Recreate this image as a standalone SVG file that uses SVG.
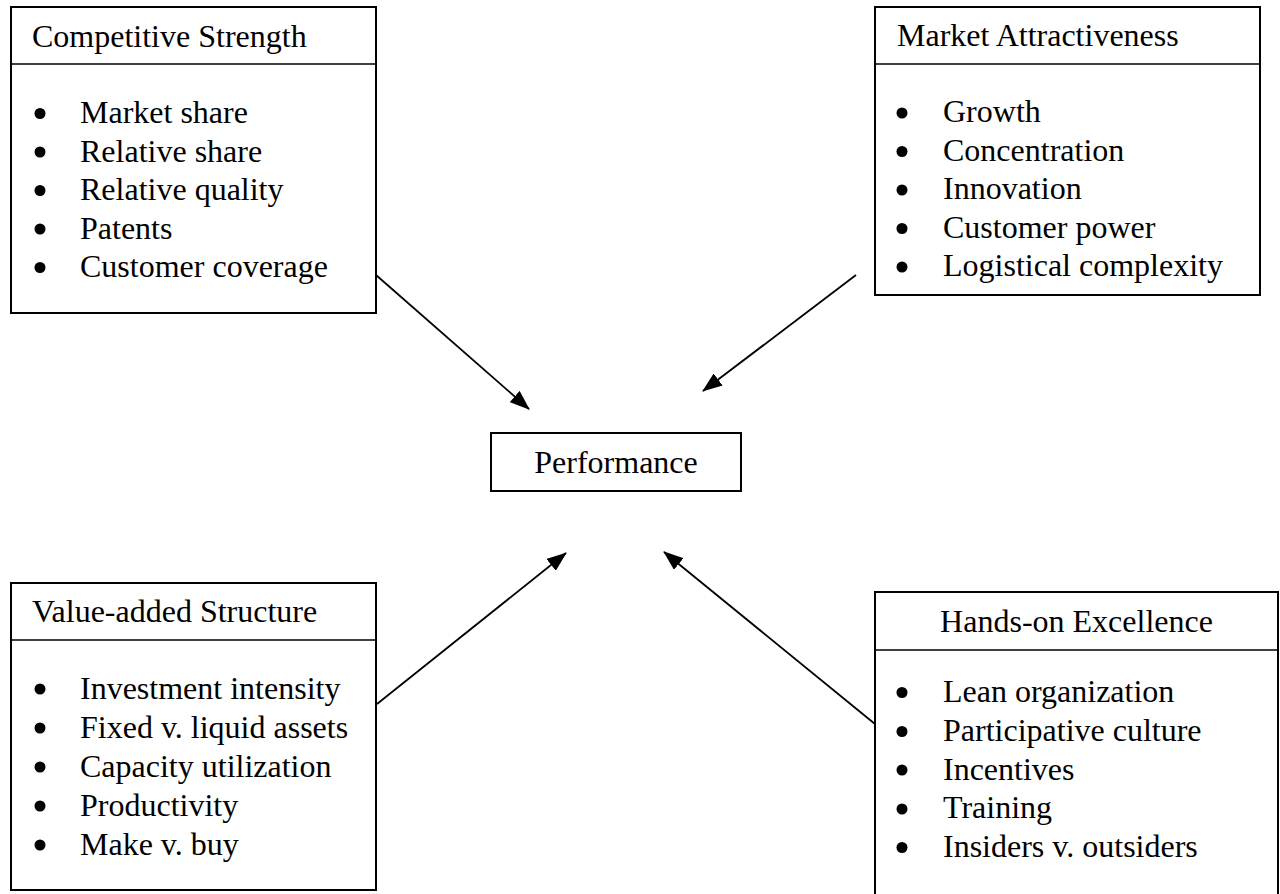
<svg xmlns="http://www.w3.org/2000/svg" width="1280" height="894" viewBox="0 0 1280 894">
  <defs>
    <marker id="arrow" markerUnits="userSpaceOnUse" markerWidth="20" markerHeight="15" refX="19" refY="7.5" orient="auto">
      <path d="M0,0 L20,7.5 L0,15 z" fill="#000"/>
    </marker>
    <style>
      .box { fill: #fff; stroke: #000; stroke-width: 2; }
      .rule { stroke: #000; stroke-width: 1.6; }
      .title { font-family: "Liberation Serif", "Times New Roman", serif; font-size: 32px; fill: #000; }
      .item { font-family: "Liberation Serif", "Times New Roman", serif; font-size: 32px; fill: #000; }
      .dot { fill: #000; }
      .link { stroke: #000; stroke-width: 1.8; fill: none; marker-end: url(#arrow); }
    </style>
  </defs>
  <rect width="1280" height="894" fill="#fff"/>

  <!-- connectors into the central node -->
  <g id="connectors">
    <line class="link" x1="376" y1="275" x2="529" y2="409"/>
    <line class="link" x1="856" y1="275" x2="703" y2="391"/>
    <line class="link" x1="377" y1="704" x2="566" y2="553"/>
    <line class="link" x1="875" y1="724" x2="664" y2="552"/>
  </g>

  <g id="competitive-strength">
    <rect class="box" x="11" y="7" width="365" height="306"/>
    <line class="rule" x1="11" y1="64" x2="376" y2="64"/>
    <text class="title" x="32" y="47">Competitive Strength</text>
    <circle class="dot" cx="40" cy="113.5" r="5.5"/>
    <circle class="dot" cx="40" cy="152" r="5.5"/>
    <circle class="dot" cx="40" cy="190.5" r="5.5"/>
    <circle class="dot" cx="40" cy="229" r="5.5"/>
    <circle class="dot" cx="40" cy="267.5" r="5.5"/>
    <text class="item" x="80" y="123">Market share</text>
    <text class="item" x="80" y="161.5">Relative share</text>
    <text class="item" x="80" y="200">Relative quality</text>
    <text class="item" x="80" y="238.5">Patents</text>
    <text class="item" x="80" y="277">Customer coverage</text>
  </g>

  <g id="market-attractiveness">
    <rect class="box" x="875" y="7" width="385" height="288"/>
    <line class="rule" x1="875" y1="64" x2="1260" y2="64"/>
    <text class="title" x="897" y="46">Market Attractiveness</text>
    <circle class="dot" cx="902" cy="113" r="5.5"/>
    <circle class="dot" cx="902" cy="151.5" r="5.5"/>
    <circle class="dot" cx="902" cy="190" r="5.5"/>
    <circle class="dot" cx="902" cy="228.5" r="5.5"/>
    <circle class="dot" cx="902" cy="267" r="5.5"/>
    <text class="item" x="943" y="122">Growth</text>
    <text class="item" x="943" y="160.5">Concentration</text>
    <text class="item" x="943" y="199">Innovation</text>
    <text class="item" x="943" y="237.5">Customer power</text>
    <text class="item" x="943" y="276">Logistical complexity</text>
  </g>

  <g id="performance">
    <rect class="box" x="491" y="433" width="250" height="58"/>
    <text class="title" x="616" y="473" text-anchor="middle">Performance</text>
  </g>

  <g id="value-added-structure">
    <rect class="box" x="11" y="583" width="365" height="307"/>
    <line class="rule" x1="11" y1="640" x2="376" y2="640"/>
    <text class="title" x="32" y="622">Value-added Structure</text>
    <circle class="dot" cx="40" cy="689" r="5.5"/>
    <circle class="dot" cx="40" cy="728" r="5.5"/>
    <circle class="dot" cx="40" cy="767" r="5.5"/>
    <circle class="dot" cx="40" cy="806" r="5.5"/>
    <circle class="dot" cx="40" cy="845" r="5.5"/>
    <text class="item" x="80" y="698.5">Investment intensity</text>
    <text class="item" x="80" y="737.5">Fixed v. liquid assets</text>
    <text class="item" x="80" y="776.5">Capacity utilization</text>
    <text class="item" x="80" y="815.5">Productivity</text>
    <text class="item" x="80" y="854.5">Make v. buy</text>
  </g>

  <g id="hands-on-excellence">
    <rect class="box" x="875" y="592" width="403" height="320"/>
    <line class="rule" x1="875" y1="650" x2="1278" y2="650"/>
    <text class="title" x="1076.5" y="632" text-anchor="middle">Hands-on Excellence</text>
    <circle class="dot" cx="902" cy="692.5" r="5.5"/>
    <circle class="dot" cx="902" cy="731.5" r="5.5"/>
    <circle class="dot" cx="902" cy="770" r="5.5"/>
    <circle class="dot" cx="902" cy="809" r="5.5"/>
    <circle class="dot" cx="902" cy="847.5" r="5.5"/>
    <text class="item" x="943" y="702">Lean organization</text>
    <text class="item" x="943" y="740.5">Participative culture</text>
    <text class="item" x="943" y="779.5">Incentives</text>
    <text class="item" x="943" y="818">Training</text>
    <text class="item" x="943" y="857">Insiders v. outsiders</text>
  </g>
</svg>
